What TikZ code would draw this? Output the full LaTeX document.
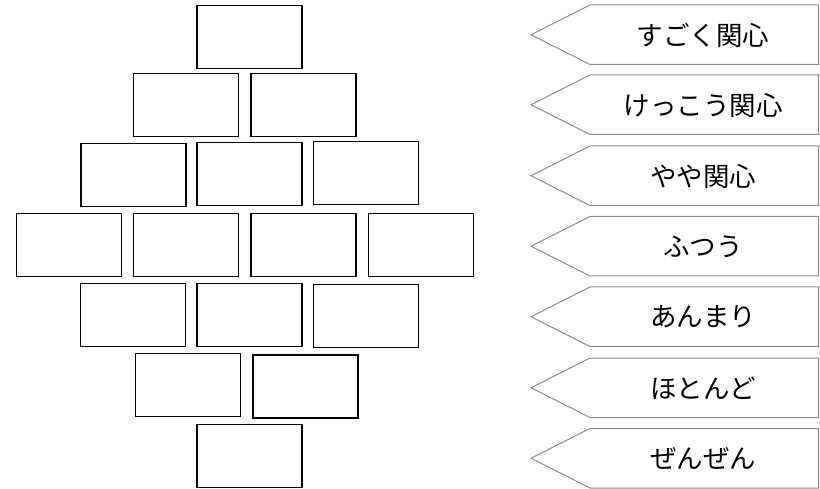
\documentclass[tikz,border=0pt]{standalone}
\usepackage{fontspec}
\newfontfamily\jpfont{Noto Sans CJK JP}
\begin{document}
\begin{tikzpicture}[x=1pt,y=-1pt,
  cell/.style={draw=black,line width=1.2pt,minimum width=105pt,minimum height=63pt,inner sep=0pt},
  tag/.style={draw=black!45,line width=1pt},
  taglabel/.style={font=\jpfont\fontsize{26.5pt}{28pt}\selectfont,text=black,inner sep=0pt}]
\useasboundingbox (0,0) rectangle (820,489);
% diamond of boxes
\node[cell] (r1a) at (249.5,36.7) {};
\node[cell] (r2a) at (186.2,105) {};
\node[cell] (r2b) at (303.5,105) {};
\node[cell] (r3a) at (133.5,175.3) {};
\node[cell] (r3b) at (249.5,174.2) {};
\node[cell] (r3c) at (365.7,173) {};
\node[cell] (r4a) at (69.3,245) {};
\node[cell] (r4b) at (186.2,245) {};
\node[cell] (r4c) at (303.5,245) {};
\node[cell] (r4d) at (421.2,245) {};
\node[cell] (r5a) at (132.7,315) {};
\node[cell] (r5b) at (249.5,315) {};
\node[cell] (r5c) at (365.7,316) {};
\node[cell] (r6a) at (187.8,385.3) {};
\node[cell] (r6b) at (305.5,386.5) {};
\node[cell] (r7a) at (249.5,456) {};
% tags
\foreach \t/\name/\txt in {5/t1/すごく関心,75/t2/けっこう関心,146/t3/やや関心,216.5/t4/ふつう,287/t5/あんまり,358/t6/ほとんど,428.5/t7/ぜんぜん}{
  \draw[tag] (590,\t) -- (818.5,\t) -- (818.5,\t+59.5) -- (590,\t+59.5) -- (531,\t+29.75) -- cycle;
  \node[taglabel] (\name) at (703,\t+30) {\txt};
}
\end{tikzpicture}
\end{document}
